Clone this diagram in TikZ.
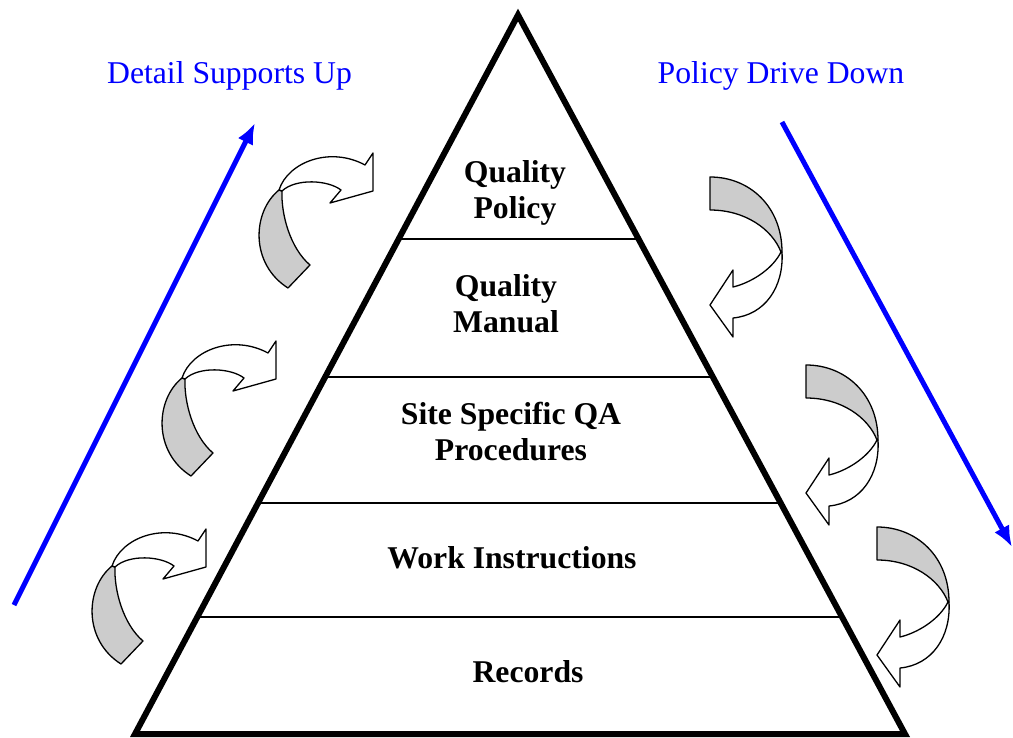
\documentclass[tikz,border=0pt]{standalone}
\usepackage{fontspec}
\setmainfont{Liberation Serif}
\usetikzlibrary{arrows.meta,calc}
\definecolor{ribbongray}{RGB}{204,204,204}
\definecolor{driveblue}{RGB}{0,0,255}

\begin{document}
\begin{tikzpicture}[x=1pt,y=-1pt,
  level/.style={font=\fontsize{31.7}{36}\selectfont\bfseries,align=center,anchor=base},
  side/.style={font=\fontsize{31.7}{36}\selectfont,text=driveblue,anchor=base},
  drive/.style={draw=driveblue,line width=5pt,-{Latex[length=21pt,width=17pt]}},
  twist/.style={draw=black,line width=1.3pt,line join=round}]
\useasboundingbox (0,0) rectangle (1013,738);

\coordinate (apex) at (518,15);
\coordinate (bl) at (135,734);
\coordinate (br) at (905,734);

% the dividing lines between the levels
\foreach \h in {239,377,503,617}
  \draw[line width=1.3pt] ($(apex)!{(\h-15)/719}!(bl)$) -- ($(apex)!{(\h-15)/719}!(br)$);
% the pyramid
\draw[line width=6pt] (apex) -- (bl) -- (br) -- cycle;

% labels of the levels (base is the last line)
\node[level] (policy) at (515,219) {Quality\\Policy};
\node[level] (manual) at (506,333) {Quality\\Manual};
\node[level] (procedures) at (511,460) {Site Specific QA\\Procedures};
\node[level] (instructions) at (512,568) {Work Instructions};
\node[level] (records) at (528,682) {Records};

% the blue labels and arrows
\node[side] (support label) at (229.5,84) {Detail Supports Up};
\node[side] (drive label) at (781,84) {Policy Drive Down};
\draw[drive] (14,605) -- (255,123);
\draw[drive] (782,122) -- (1012,547);

% curved arrows on the left, turning up
\foreach \ox/\oy in {258/152,161/340,91/528} {
  \begin{scope}[shift={(\ox,\oy)}]
    \filldraw[twist,fill=ribbongray] (30,136) .. controls (-8,112) and (-6,60) .. (21,38)
      -- (24,39) .. controls (23,62) and (32,96) .. (52,113) -- cycle;
    \filldraw[twist,fill=white] (21,38) .. controls (30,10) and (72,-6) .. (107,13)
      -- (115,1) -- (115,39) -- (72,51) -- (83,38) .. controls (70,28) and (38,26) .. (24,39) -- cycle;
  \end{scope}
}
% curved arrows on the right, turning down
\foreach \ox/\oy in {710/177,806/365,877/527} {
  \begin{scope}[shift={(\ox,\oy)}]
    \filldraw[twist,fill=ribbongray] (0,0) .. controls (40,0) and (72,30) .. (72,75)
      -- (71,75) .. controls (62,52) and (35,33) .. (0,33) -- cycle;
    \filldraw[twist,fill=white] (72,75) .. controls (74,110) and (55,138) .. (23,141)
      -- (23,160) -- (0,128) -- (23,93) -- (23,110) .. controls (40,106) and (62,93) .. (71,75) -- cycle;
  \end{scope}
}
\end{tikzpicture}
\end{document}
